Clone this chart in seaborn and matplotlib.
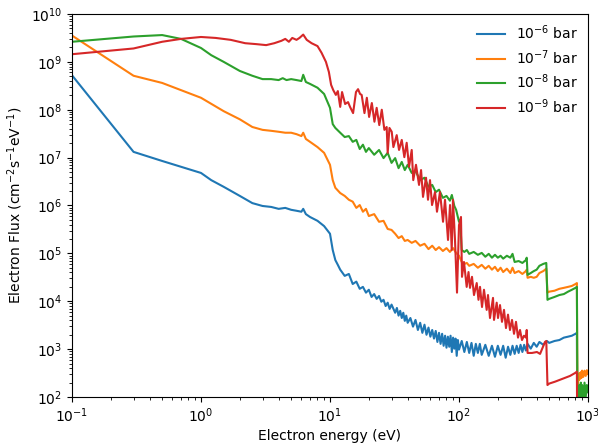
import numpy as np
import pandas as pd
import matplotlib
matplotlib.use("Agg")
import matplotlib.pyplot as plt
import seaborn as sns

# ---------------- data (flux given as log10 values) ----------------
energy_1e6 = [0.1, 0.3, 0.5, 1.0, 1.2, 1.5, 2.0, 2.5, 3, 3.5, 4, 4.5, 5, 5.5, 6, 6.2, 6.5, 7, 8, 9,
              10, 10.5, 11, 11.5, 12, 13, 14, 15, 16, 17, 18, 19, 20, 21, 22, 23, 24, 25, 26, 27,
              28, 29, 30, 32, 33, 34, 35, 36, 37, 38, 39, 40, 42, 44, 46, 48, 50, 52, 54, 56,
              58, 60, 62, 64, 66, 68, 70, 72, 74, 76, 78, 80, 82, 84, 86, 88, 90, 92, 94, 96,
              98, 100, 105, 110, 115, 120, 125, 130, 135, 140, 145, 150, 160, 170, 180, 190, 200, 210, 220, 230,
              240, 250, 260, 270, 280, 290, 300, 310, 320, 330, 340, 360, 380, 400, 420, 450, 480, 500, 550, 600,
              650, 700, 750, 800, 820, 830, 1000]
log10_flux_1e6 = [8.72, 7.12, 6.93, 6.68, 6.53, 6.39, 6.20, 6.05, 5.99, 5.97, 5.93, 5.95, 5.91, 5.89, 5.87, 5.93, 5.82, 5.76, 5.68, 5.57,
                  5.41, 5.07, 4.86, 4.76, 4.66, 4.53, 4.57, 4.36, 4.41, 4.26, 4.30, 4.18, 4.24, 4.09, 4.15, 4.05, 4.11, 3.99, 4.03, 3.90,
                  3.97, 3.84, 3.93, 3.76, 3.86, 3.70, 3.80, 3.65, 3.76, 3.59, 3.70, 3.55, 3.65, 3.47, 3.61, 3.40, 3.55, 3.34, 3.51, 3.30,
                  3.45, 3.26, 3.40, 3.22, 3.38, 3.15, 3.34, 3.11, 3.32, 3.07, 3.28, 3.03, 3.26, 3.05, 3.28, 2.94, 3.24, 3.01, 3.22, 2.86,
                  3.19, 2.99, 3.17, 2.94, 3.15, 2.92, 3.13, 2.86, 3.11, 2.92, 3.11, 2.88, 3.09, 2.86, 3.07, 2.84, 3.07, 2.88, 3.07, 2.82,
                  3.05, 2.88, 3.07, 2.90, 3.07, 2.92, 3.09, 2.94, 3.09, 2.97, 3.11, 3.01, 3.13, 3.05, 3.15, 3.09, 3.17, 3.13, 3.17, 3.19,
                  3.24, 3.26, 3.28, 3.32, 3.34, 0.0, 0.0]

energy_1e7 = [0.1, 0.3, 0.5, 1.0, 1.5, 2.0, 2.5, 3, 3.5, 4, 4.5, 5, 5.5, 6, 6.2, 6.5, 7, 8, 9, 10,
              10.5, 11, 12, 13, 14, 15, 16, 17, 18, 19, 20, 22, 24, 26, 28, 30, 32, 34, 36, 38,
              40, 43, 46, 50, 54, 58, 62, 66, 70, 75, 80, 85, 90, 95, 100, 105, 110, 115, 120, 130,
              140, 150, 160, 170, 180, 190, 200, 210, 220, 235, 250, 260, 270, 290, 310, 330, 335, 340, 360, 380,
              400, 420, 450, 475, 485, 500, 550, 600, 650, 700, 750, 800, 820, 830, 840, 850, 860, 870, 880, 890,
              900, 920, 940, 960, 980, 1000]
log10_flux_1e7 = [9.55, 8.71, 8.56, 8.25, 7.97, 7.80, 7.64, 7.58, 7.56, 7.54, 7.52, 7.52, 7.49, 7.45, 7.52, 7.39, 7.33, 7.22, 7.10, 6.85,
                  6.53, 6.37, 6.26, 6.20, 6.12, 6.08, 5.95, 6.01, 5.87, 5.93, 5.78, 5.82, 5.66, 5.68, 5.51, 5.49, 5.41, 5.32, 5.36, 5.26,
                  5.28, 5.22, 5.26, 5.16, 5.20, 5.09, 5.16, 5.07, 5.13, 5.05, 5.11, 5.03, 5.11, 5.01, 4.95, 4.82, 4.78, 4.80, 4.74, 4.78,
                  4.70, 4.76, 4.68, 4.74, 4.66, 4.72, 4.63, 4.70, 4.61, 4.68, 4.59, 4.70, 4.59, 4.63, 4.57, 4.63, 4.66, 4.49, 4.51, 4.49,
                  4.51, 4.59, 4.63, 4.68, 4.18, 4.20, 4.22, 4.26, 4.28, 4.30, 4.32, 4.36, 4.38, 1.5, 2.45, 2.35, 2.50, 2.38, 2.52, 2.40,
                  2.55, 2.42, 2.55, 2.44, 2.56, 2.48]

energy_1e8 = [0.1, 0.3, 0.5, 0.7, 1.0, 1.2, 1.5, 2.0, 2.5, 3, 3.5, 4, 4.3, 4.6, 5, 5.5, 6, 6.2, 6.5, 7,
              8, 9, 10, 10.5, 11, 12, 13, 14, 15, 16, 17, 18, 19, 20, 22, 24, 26, 28, 30, 32,
              34, 36, 38, 40, 43, 46, 50, 54, 58, 62, 66, 70, 75, 80, 85, 88, 92, 95, 100, 102,
              105, 110, 115, 120, 130, 140, 150, 160, 170, 180, 190, 200, 210, 220, 235, 250, 260, 270, 290, 310,
              330, 335, 340, 360, 380, 400, 420, 450, 475, 485, 500, 550, 600, 650, 700, 750, 800, 820, 830, 840,
              850, 860, 870, 880, 890, 900, 920, 940, 960, 980, 1000]
log10_flux_1e8 = [9.42, 9.53, 9.56, 9.48, 9.29, 9.14, 9.00, 8.81, 8.71, 8.64, 8.64, 8.62, 8.66, 8.62, 8.64, 8.62, 8.60, 8.73, 8.58, 8.54,
                  8.46, 8.33, 8.04, 7.70, 7.62, 7.52, 7.43, 7.45, 7.33, 7.37, 7.18, 7.27, 7.12, 7.20, 7.06, 7.16, 6.99, 7.10, 6.89, 6.99,
                  6.78, 6.91, 6.74, 6.85, 6.68, 6.72, 6.53, 6.58, 6.39, 6.43, 6.28, 6.33, 6.16, 6.20, 6.10, 6.22, 5.99, 5.91, 5.66, 5.70,
                  5.07, 5.03, 5.07, 4.99, 5.03, 4.97, 5.01, 4.93, 4.99, 4.91, 4.97, 4.91, 4.95, 4.89, 4.95, 4.91, 4.99, 4.82, 4.84, 4.80,
                  4.86, 4.91, 4.55, 4.59, 4.63, 4.66, 4.74, 4.78, 4.80, 4.03, 4.05, 4.09, 4.13, 4.15, 4.20, 4.24, 4.28, 4.30, 1.5, 2.20,
                  1.90, 2.25, 1.95, 2.30, 2.00, 2.25, 1.90, 2.30, 2.00, 2.25, 2.10]

energy_1e9 = [0.1, 0.3, 0.5, 0.7, 1.0, 1.3, 1.7, 2.2, 2.7, 3.2, 3.7, 4.2, 4.5, 4.8, 5.1, 5.5, 5.8, 6.2, 6.6, 7.2,
              8.0, 8.6, 9.3, 9.8, 10.2, 10.6, 11.1, 11.5, 12.0, 12.4, 13.1, 13.8, 14.3, 15.1, 15.9, 16.5, 17.1, 17.6, 18.5, 19.3,
              20.1, 21.1, 22.1, 23.0, 24.1, 25.2, 26.4, 27.5, 28.0, 28.9, 30.1, 31.0, 32.9, 34.3, 36.0, 37.7, 39.3, 41.0, 43.0, 44.2,
              46.4, 49.0, 50.8, 52.6, 55.5, 57.5, 59.6, 61.8, 65.2, 67.5, 71.2, 75.2, 77.9, 82.2, 85.2, 87.8, 89.8, 93.1, 96.5, 100,
              103.6, 105.5, 109.3, 114.7, 118.5, 121.7, 126.1, 130.7, 137.2, 141.6, 145.5, 150.8, 156.2, 163.9, 167.8, 173.9, 183.5, 186.8, 196.0, 200.6,
              207.9, 215.4, 223.3, 231.3, 239.8, 248.5, 257.6, 267.0, 276.6, 286.7, 297.1, 307.8, 319.0, 330.6, 335, 340, 368, 402, 425, 464,
              475, 485, 500, 555, 607, 663, 725, 793, 820, 830, 1000]
log10_flux_1e9 = [9.16, 9.28, 9.42, 9.48, 9.52, 9.50, 9.46, 9.39, 9.37, 9.35, 9.39, 9.44, 9.48, 9.42, 9.50, 9.46, 9.50, 9.57, 9.46, 9.39,
                  9.33, 9.19, 9.00, 8.79, 8.52, 8.41, 8.31, 8.39, 8.06, 8.37, 8.12, 8.16, 8.06, 7.93, 8.37, 8.43, 8.33, 8.31, 7.93, 8.25,
                  7.85, 8.14, 7.75, 8.04, 7.68, 8.00, 7.58, 7.64, 7.10, 7.62, 7.54, 7.22, 7.47, 7.16, 7.37, 7.01, 7.31, 6.81, 7.16, 6.53,
                  6.85, 6.43, 6.74, 6.18, 6.58, 6.12, 6.53, 6.01, 6.28, 5.87, 6.28, 5.66, 6.12, 5.28, 6.01, 5.07, 6.12, 5.28, 4.18, 5.59,
                  5.76, 4.51, 4.82, 4.30, 4.61, 4.28, 4.51, 4.13, 4.38, 4.03, 4.30, 3.88, 4.24, 3.82, 4.13, 3.65, 4.07, 3.61, 3.97, 3.65,
                  3.92, 3.57, 3.82, 3.44, 3.72, 3.40, 3.61, 3.32, 3.57, 3.24, 3.40, 3.19, 3.28, 3.24, 3.40, 2.92, 2.92, 2.94, 2.90, 3.15,
                  3.17, 2.25, 2.28, 2.32, 2.36, 2.40, 2.44, 2.50, 2.53, 0.0, 0.0]

series_labels = ["$10^{-6}$ bar", "$10^{-7}$ bar", "$10^{-8}$ bar", "$10^{-9}$ bar"]
series_colors = ["#1f77b4", "#ff7f0e", "#2ca02c", "#d62728"]

energies = [energy_1e6, energy_1e7, energy_1e8, energy_1e9]
log_fluxes = [log10_flux_1e6, log10_flux_1e7, log10_flux_1e8, log10_flux_1e9]

frames = []
for lab, e, lf in zip(series_labels, energies, log_fluxes):
    assert len(e) == len(lf), (lab, len(e), len(lf))
    frames.append(pd.DataFrame({"energy": e,
                                "flux": 10.0 ** np.asarray(lf, dtype=float),
                                "pressure": lab}))
df = pd.concat(frames, ignore_index=True)

# ---------------- plot ----------------
fig = plt.figure(figsize=(5.98, 4.48), dpi=100)
ax = fig.add_axes([72 / 598, 1 - 397 / 448, 516 / 598, 383 / 448])

sns.lineplot(data=df, x="energy", y="flux", hue="pressure",
             hue_order=series_labels, palette=series_colors,
             estimator=None, sort=False, linewidth=1.5, ax=ax)

ax.set_xscale("log")
ax.set_yscale("log")
ax.set_xlim(0.1, 1000)
ax.set_ylim(1e2, 1e10)
ax.set_xlabel("Electron energy (eV)", labelpad=3)
ax.set_ylabel(r"Electron Flux (cm$^{-2}$s$^{-1}$eV$^{-1}$)")
ax.legend(loc="upper right", frameon=False, labelspacing=0.42, borderaxespad=0.3)

fig.savefig("out.png", dpi=100)
